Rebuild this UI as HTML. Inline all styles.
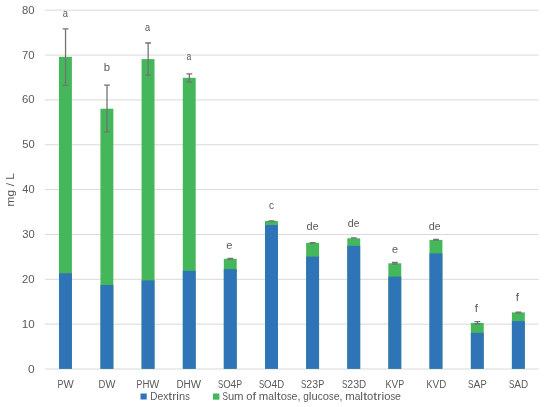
<!DOCTYPE html><html><head><meta charset="utf-8"><style>html,body{margin:0;padding:0;background:#fff;}svg{display:block;filter:blur(0.3px);}text{font-family:"Liberation Sans",sans-serif;font-kerning:none;}</style></head><body>
<svg width="550" height="407" viewBox="0 0 550 407">
<rect width="550" height="407" fill="#fff"/>
<line x1="45" x2="538.6" y1="10.20" y2="10.20" stroke="#D9D9D9" stroke-width="1"/>
<line x1="45" x2="538.6" y1="55.05" y2="55.05" stroke="#D9D9D9" stroke-width="1"/>
<line x1="45" x2="538.6" y1="99.90" y2="99.90" stroke="#D9D9D9" stroke-width="1"/>
<line x1="45" x2="538.6" y1="144.75" y2="144.75" stroke="#D9D9D9" stroke-width="1"/>
<line x1="45" x2="538.6" y1="189.60" y2="189.60" stroke="#D9D9D9" stroke-width="1"/>
<line x1="45" x2="538.6" y1="234.45" y2="234.45" stroke="#D9D9D9" stroke-width="1"/>
<line x1="45" x2="538.6" y1="279.30" y2="279.30" stroke="#D9D9D9" stroke-width="1"/>
<line x1="45" x2="538.6" y1="324.15" y2="324.15" stroke="#D9D9D9" stroke-width="1"/>
<line x1="45" x2="538.6" y1="369.00" y2="369.00" stroke="#D9D9D9" stroke-width="1"/>
<text x="22.11" y="13.70" font-size="10.8" fill="#595959" textLength="12.53" lengthAdjust="spacingAndGlyphs">80</text>
<text x="22.02" y="58.55" font-size="10.8" fill="#595959" textLength="12.63" lengthAdjust="spacingAndGlyphs">70</text>
<text x="22.02" y="103.40" font-size="10.8" fill="#595959" textLength="12.62" lengthAdjust="spacingAndGlyphs">60</text>
<text x="22.15" y="148.25" font-size="10.8" fill="#595959" textLength="12.49" lengthAdjust="spacingAndGlyphs">50</text>
<text x="22.35" y="193.10" font-size="10.8" fill="#595959" textLength="12.28" lengthAdjust="spacingAndGlyphs">40</text>
<text x="22.17" y="237.95" font-size="10.8" fill="#595959" textLength="12.46" lengthAdjust="spacingAndGlyphs">30</text>
<text x="22.03" y="282.80" font-size="10.8" fill="#595959" textLength="12.61" lengthAdjust="spacingAndGlyphs">20</text>
<text x="21.71" y="327.65" font-size="10.8" fill="#595959" textLength="12.94" lengthAdjust="spacingAndGlyphs">10</text>
<text x="28.03" y="372.50" font-size="10.8" fill="#595959" textLength="6.63" lengthAdjust="spacingAndGlyphs">0</text>
<rect x="59.00" y="56.80" width="12.9" height="312.00" fill="#45B75B"/>
<rect x="59.00" y="273.30" width="12.9" height="95.50" fill="#2E74B7"/>
<path d="M65.55 28.90V85.40M62.65 28.90H68.45M62.65 85.40H68.45" stroke="#737373" stroke-width="1.3" fill="none"/>
<rect x="100.45" y="108.70" width="12.9" height="260.10" fill="#45B75B"/>
<rect x="100.45" y="285.00" width="12.9" height="83.80" fill="#2E74B7"/>
<path d="M107.00 85.05V131.80M104.10 85.05H109.90M104.10 131.80H109.90" stroke="#737373" stroke-width="1.3" fill="none"/>
<rect x="141.60" y="59.10" width="12.9" height="309.70" fill="#45B75B"/>
<rect x="141.60" y="280.40" width="12.9" height="88.40" fill="#2E74B7"/>
<path d="M148.15 43.00V75.20M145.25 43.00H151.05M145.25 75.20H151.05" stroke="#737373" stroke-width="1.3" fill="none"/>
<rect x="182.80" y="77.80" width="12.9" height="291.00" fill="#45B75B"/>
<rect x="182.80" y="270.80" width="12.9" height="98.00" fill="#2E74B7"/>
<path d="M189.35 73.90V82.10M186.45 73.90H192.25M186.45 82.10H192.25" stroke="#737373" stroke-width="1.3" fill="none"/>
<rect x="223.80" y="258.80" width="12.9" height="110.00" fill="#45B75B"/>
<rect x="223.80" y="269.10" width="12.9" height="99.70" fill="#2E74B7"/>
<path d="M230.35 258.50V259.20M227.45 258.50H233.25M227.45 259.20H233.25" stroke="#737373" stroke-width="1.3" fill="none"/>
<rect x="265.00" y="220.90" width="12.9" height="147.90" fill="#45B75B"/>
<rect x="265.00" y="225.00" width="12.9" height="143.80" fill="#2E74B7"/>
<path d="M271.55 220.90V221.20M268.65 220.90H274.45M268.65 221.20H274.45" stroke="#737373" stroke-width="1.3" fill="none"/>
<rect x="306.15" y="242.80" width="12.9" height="126.00" fill="#45B75B"/>
<rect x="306.15" y="256.60" width="12.9" height="112.20" fill="#2E74B7"/>
<path d="M312.70 242.70V243.10M309.80 242.70H315.60M309.80 243.10H315.60" stroke="#737373" stroke-width="1.3" fill="none"/>
<rect x="347.30" y="238.30" width="12.9" height="130.50" fill="#45B75B"/>
<rect x="347.30" y="245.80" width="12.9" height="123.00" fill="#2E74B7"/>
<path d="M353.85 237.90V238.20M350.95 237.90H356.75M350.95 238.20H356.75" stroke="#737373" stroke-width="1.3" fill="none"/>
<rect x="388.35" y="263.30" width="12.9" height="105.50" fill="#45B75B"/>
<rect x="388.35" y="276.60" width="12.9" height="92.20" fill="#2E74B7"/>
<path d="M394.90 262.50V264.20M392.00 262.50H397.80M392.00 264.20H397.80" stroke="#737373" stroke-width="1.3" fill="none"/>
<rect x="429.50" y="239.90" width="12.9" height="128.90" fill="#45B75B"/>
<rect x="429.50" y="253.40" width="12.9" height="115.40" fill="#2E74B7"/>
<path d="M436.05 239.50V240.20M433.15 239.50H438.95M433.15 240.20H438.95" stroke="#737373" stroke-width="1.3" fill="none"/>
<rect x="470.85" y="322.90" width="12.9" height="45.90" fill="#45B75B"/>
<rect x="470.85" y="332.90" width="12.9" height="35.90" fill="#2E74B7"/>
<path d="M477.40 321.60V324.20M474.50 321.60H480.30M474.50 324.20H480.30" stroke="#737373" stroke-width="1.3" fill="none"/>
<rect x="511.90" y="312.40" width="12.9" height="56.40" fill="#45B75B"/>
<rect x="511.90" y="321.10" width="12.9" height="47.70" fill="#2E74B7"/>
<path d="M518.45 312.10V312.80M515.55 312.10H521.35M515.55 312.80H521.35" stroke="#737373" stroke-width="1.3" fill="none"/>
<text x="62.70" y="16.80" font-size="10.8" fill="#595959" textLength="5.20" lengthAdjust="spacingAndGlyphs">a</text>
<text x="103.77" y="70.90" font-size="10.8" fill="#595959" textLength="6.31" lengthAdjust="spacingAndGlyphs">b</text>
<text x="145.01" y="30.60" font-size="10.8" fill="#595959" textLength="5.09" lengthAdjust="spacingAndGlyphs">a</text>
<text x="186.44" y="60.30" font-size="10.8" fill="#595959" textLength="4.76" lengthAdjust="spacingAndGlyphs">a</text>
<text x="226.23" y="249.10" font-size="10.8" fill="#595959" textLength="6.16" lengthAdjust="spacingAndGlyphs">e</text>
<text x="268.88" y="208.80" font-size="10.8" fill="#595959" textLength="4.99" lengthAdjust="spacingAndGlyphs">c</text>
<g font-size="10.8" fill="#595959"><text transform="translate(306.54 229.60) scale(1.019 1)">d</text><text transform="translate(312.66 229.60) scale(0.967 1)">e</text></g>
<g font-size="10.8" fill="#595959"><text transform="translate(347.75 227.40) scale(1.000 1)">d</text><text transform="translate(353.76 227.40) scale(0.949 1)">e</text></g>
<text x="391.94" y="253.00" font-size="10.8" fill="#595959" textLength="6.04" lengthAdjust="spacingAndGlyphs">e</text>
<g font-size="10.8" fill="#595959"><text transform="translate(428.64 229.80) scale(1.010 1)">d</text><text transform="translate(434.71 229.80) scale(0.958 1)">e</text></g>
<text x="474.83" y="311.80" font-size="10.8" fill="#595959" textLength="3.25" lengthAdjust="spacingAndGlyphs">f</text>
<text x="515.73" y="301.00" font-size="10.8" fill="#595959" textLength="3.25" lengthAdjust="spacingAndGlyphs">f</text>
<g font-size="10.8" fill="#595959"><text transform="translate(57.57 387.50) scale(0.825 1)">P</text><text transform="translate(63.51 387.50) scale(1.003 1)">W</text></g>
<g font-size="10.8" fill="#595959"><text transform="translate(98.52 387.50) scale(0.881 1)">D</text><text transform="translate(105.39 387.50) scale(0.976 1)">W</text></g>
<g font-size="10.8" fill="#595959"><text transform="translate(136.59 387.50) scale(0.804 1)">P</text><text transform="translate(142.38 387.50) scale(0.895 1)">H</text><text transform="translate(149.36 387.50) scale(0.978 1)">W</text></g>
<g font-size="10.8" fill="#595959"><text transform="translate(176.49 387.50) scale(0.913 1)">D</text><text transform="translate(183.61 387.50) scale(0.925 1)">H</text><text transform="translate(190.83 387.50) scale(1.011 1)">W</text></g>
<g font-size="10.8" fill="#595959"><text transform="translate(217.95 387.50) scale(0.719 1)">S</text><text transform="translate(223.13 387.50) scale(0.890 1)">O</text><text transform="translate(230.60 387.50) scale(0.953 1)">4</text><text transform="translate(236.33 387.50) scale(0.810 1)">P</text></g>
<g font-size="10.8" fill="#595959"><text transform="translate(258.95 387.50) scale(0.716 1)">S</text><text transform="translate(264.11 387.50) scale(0.886 1)">O</text><text transform="translate(271.55 387.50) scale(0.949 1)">4</text><text transform="translate(277.25 387.50) scale(0.886 1)">D</text></g>
<g font-size="10.8" fill="#595959"><text transform="translate(300.94 387.50) scale(0.744 1)">S</text><text transform="translate(306.30 387.50) scale(0.986 1)">2</text><text transform="translate(312.22 387.50) scale(0.986 1)">3</text><text transform="translate(318.14 387.50) scale(0.838 1)">P</text></g>
<g font-size="10.8" fill="#595959"><text transform="translate(341.94 387.50) scale(0.740 1)">S</text><text transform="translate(347.26 387.50) scale(0.980 1)">2</text><text transform="translate(353.15 387.50) scale(0.980 1)">3</text><text transform="translate(359.03 387.50) scale(0.915 1)">D</text></g>
<g font-size="10.8" fill="#595959"><text transform="translate(385.56 387.50) scale(0.830 1)">K</text><text transform="translate(391.54 387.50) scale(0.927 1)">V</text><text transform="translate(398.23 387.50) scale(0.825 1)">P</text></g>
<g font-size="10.8" fill="#595959"><text transform="translate(426.57 387.50) scale(0.824 1)">K</text><text transform="translate(432.51 387.50) scale(0.921 1)">V</text><text transform="translate(439.14 387.50) scale(0.900 1)">D</text></g>
<g font-size="10.8" fill="#595959"><text transform="translate(467.92 387.50) scale(0.765 1)">S</text><text transform="translate(473.43 387.50) scale(0.965 1)">A</text><text transform="translate(480.38 387.50) scale(0.862 1)">P</text></g>
<g font-size="10.8" fill="#595959"><text transform="translate(508.94 387.50) scale(0.742 1)">S</text><text transform="translate(514.28 387.50) scale(0.935 1)">A</text><text transform="translate(521.02 387.50) scale(0.918 1)">D</text></g>
<rect x="140.5" y="393.5" width="6.2" height="6" fill="#2E74B7"/>
<g font-size="10.8" fill="#595959"><text transform="translate(150.18 399.50) scale(0.924 1)">D</text><text transform="translate(157.39 399.50) scale(0.972 1)">e</text><text transform="translate(163.22 399.50) scale(0.940 1)">x</text><text transform="translate(168.31 399.50) scale(1.300 1)">t</text><text transform="translate(172.22 399.50) scale(1.137 1)">r</text><text transform="translate(176.31 399.50) scale(1.118 1)">i</text><text transform="translate(179.00 399.50) scale(1.024 1)">n</text><text transform="translate(185.15 399.50) scale(0.849 1)">s</text></g>
<rect x="213" y="393.5" width="6.4" height="6.2" fill="#45B75B"/>
<g font-size="10.8" fill="#595959"><text transform="translate(222.43 399.50) scale(0.756 1)">S</text><text transform="translate(227.88 399.50) scale(1.038 1)">u</text><text transform="translate(234.11 399.50) scale(1.054 1)">m</text><text transform="translate(246.28 399.50) scale(1.042 1)">o</text><text transform="translate(252.54 399.50) scale(1.207 1)">f</text><text transform="translate(258.84 399.50) scale(1.054 1)">m</text><text transform="translate(268.33 399.50) scale(0.947 1)">a</text><text transform="translate(274.01 399.50) scale(1.133 1)">l</text><text transform="translate(276.77 399.50) scale(1.300 1)">t</text><text transform="translate(280.71 399.50) scale(1.042 1)">o</text><text transform="translate(286.97 399.50) scale(0.860 1)">s</text><text transform="translate(291.61 399.50) scale(0.984 1)">e</text><text transform="translate(297.52 399.50) scale(0.989 1)">,</text><text transform="translate(303.17 399.50) scale(0.931 1)">g</text><text transform="translate(308.76 399.50) scale(1.133 1)">l</text><text transform="translate(311.48 399.50) scale(1.038 1)">u</text><text transform="translate(317.71 399.50) scale(0.930 1)">c</text><text transform="translate(322.74 399.50) scale(1.042 1)">o</text><text transform="translate(328.99 399.50) scale(0.860 1)">s</text><text transform="translate(333.63 399.50) scale(0.984 1)">e</text><text transform="translate(339.55 399.50) scale(0.989 1)">,</text><text transform="translate(345.20 399.50) scale(1.054 1)">m</text><text transform="translate(354.68 399.50) scale(0.947 1)">a</text><text transform="translate(360.37 399.50) scale(1.133 1)">l</text><text transform="translate(363.13 399.50) scale(1.300 1)">t</text><text transform="translate(367.07 399.50) scale(1.042 1)">o</text><text transform="translate(373.36 399.50) scale(1.300 1)">t</text><text transform="translate(377.30 399.50) scale(1.152 1)">r</text><text transform="translate(381.44 399.50) scale(1.133 1)">i</text><text transform="translate(384.16 399.50) scale(1.042 1)">o</text><text transform="translate(390.42 399.50) scale(0.860 1)">s</text><text transform="translate(395.06 399.50) scale(0.984 1)">e</text></g>
<text transform="translate(14.3 0) rotate(-90) scale(1.1027 1)" x="-187.17 -178.14 -172.50 -168.86 -165.23 -162.90" y="0" font-size="10.8" fill="#595959">mg / L</text>
</svg></body></html>
